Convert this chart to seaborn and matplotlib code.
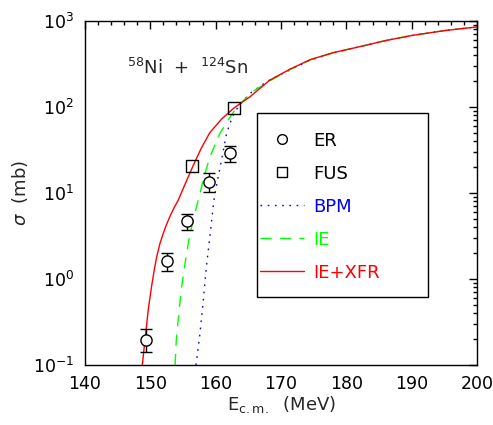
import numpy as np
import pandas as pd
import matplotlib
matplotlib.use("Agg")
import matplotlib.pyplot as plt
import seaborn as sns
from matplotlib.patches import Rectangle
from matplotlib.lines import Line2D
from matplotlib.ticker import MultipleLocator, LogLocator, NullFormatter

# ER data (circles) with error bars
er_e = [149.3, 152.6, 155.6, 159.0, 162.2]
er_sig = [0.195, 1.62, 4.7, 13.4, 29.0]
er_lo = [0.14, 1.23, 3.7, 10.2, 23.0]
er_hi = [0.26, 2.0, 5.7, 17.0, 35.0]

# FUS data (squares)
fus_e = [156.4, 162.8]
fus_sig = [20.6, 97.0]

# IE+XFR (red solid)
xfr_e = [148.8, 149.0, 149.2, 149.45, 149.7, 150.2, 150.6, 151.0, 151.5, 152.0,
         152.5, 153.0, 153.6, 154.3, 155.4, 156.6, 157.8, 159.1, 160.9, 162.8,
         165.3, 168.3, 171.4, 174.5, 178.0, 182.0, 186.0, 190.0, 195.0, 200.0]
xfr_sig = [0.1, 0.14, 0.195, 0.29, 0.44, 0.81, 1.25, 1.82, 2.6, 3.4,
           4.3, 5.3, 6.6, 8.3, 13.0, 21.0, 33.0, 50.0, 72.0, 97.0,
           132.0, 205.0, 275.0, 355.0, 427.0, 500.0, 590.0, 675.0, 770.0, 850.0]

# IE (green dashed)
ie_e = [153.8, 154.0, 154.4, 154.8, 155.4, 156.0, 156.7, 157.35, 158.2, 159.1,
        160.7, 162.2, 163.3, 165.5, 168.3, 171.4, 174.5, 178.0, 182.0, 186.0,
        190.0, 195.0, 200.0]
ie_sig = [0.1, 0.2, 0.42, 0.8, 1.65, 3.1, 5.3, 8.3, 15.0, 26.0,
          50.0, 76.0, 100.0, 148.0, 200.0, 272.0, 352.0, 425.0, 500.0, 590.0,
          675.0, 770.0, 850.0]

# BPM (blue dotted)
bpm_e = [157.0, 157.6, 158.1, 158.6, 159.2, 159.75, 160.2, 160.7, 161.2, 161.7,
         162.6, 163.7, 165.5, 167.3, 168.3, 170.5, 174.5, 178.0, 182.0, 186.0,
         190.0, 195.0, 200.0]
bpm_sig = [0.1, 0.23, 0.55, 1.4, 3.5, 8.3, 13.0, 20.0, 32.0, 50.0,
           78.0, 108.0, 148.0, 185.0, 205.0, 250.0, 350.0, 425.0, 500.0, 590.0,
           675.0, 770.0, 850.0]

sns.set_style("white")
plt.rcParams['font.family'] = ['DejaVu Sans']

green = '#00ff00'

fig = plt.figure(figsize=(4.93, 4.25), dpi=100)
ax = fig.add_axes([0.172, 0.141, 0.796, 0.810])

sns.lineplot(x=bpm_e, y=bpm_sig, ax=ax, color='blue', lw=1.0, sort=False,
             estimator=None, linestyle=(0, (1.2, 4.0)))
sns.lineplot(x=ie_e, y=ie_sig, ax=ax, color=green, lw=1.0, sort=False,
             estimator=None, linestyle=(0, (8, 6)))
sns.lineplot(x=xfr_e, y=xfr_sig, ax=ax, color='red', lw=1.0, sort=False,
             estimator=None)

yerr = [np.array(er_sig) - np.array(er_lo), np.array(er_hi) - np.array(er_sig)]
ax.errorbar(er_e, er_sig, yerr=yerr, fmt='none', ecolor='black', elinewidth=1.0,
            capsize=4.5, capthick=1.0, zorder=4)
sns.scatterplot(x=er_e, y=er_sig, ax=ax, marker='o', s=65, facecolor='white',
                edgecolor='black', linewidth=1.0, zorder=5)
sns.scatterplot(x=fus_e, y=fus_sig, ax=ax, marker='s', s=80, facecolor='none',
                edgecolor='black', linewidth=1.0, zorder=5)

ax.set_yscale('log')
ax.set_xlim(140, 200)
ax.set_ylim(0.1, 1000)
ax.xaxis.set_major_locator(MultipleLocator(10))
ax.xaxis.set_minor_locator(MultipleLocator(2))
ax.yaxis.set_major_locator(LogLocator(base=10, numticks=10))
ax.yaxis.set_minor_locator(LogLocator(base=10, subs=np.arange(2, 10), numticks=20))
ax.yaxis.set_minor_formatter(NullFormatter())
ax.tick_params(which='both', direction='in', top=True, right=True, width=1.0,
               labelsize=12.5, colors='black')
ax.tick_params(which='major', length=6)
ax.tick_params(which='minor', length=3)
ax.tick_params(axis='x', pad=7)
ax.tick_params(axis='y', pad=8)
for s in ax.spines.values():
    s.set_color('black')
    s.set_linewidth(1.0)

ax.set_xlabel(r'E$_{\rm c.m.}$  (MeV)', fontsize=13, labelpad=1)
ax.set_ylabel(r'$\sigma$  (mb)', fontsize=13, labelpad=2)

ax.text(146.5, 280, r'$^{58}$Ni  +  $^{124}$Sn', fontsize=13, va='center', ha='left')

# legend box
ax.add_patch(Rectangle((0.439, 0.198), 0.436, 0.535, transform=ax.transAxes,
                       facecolor='white', edgecolor='black', lw=1.0, zorder=6))
handles = [
    Line2D([], [], ls='none', marker='o', ms=7, mfc='white', mec='black', mew=1.0),
    Line2D([], [], ls='none', marker='s', ms=7, mfc='white', mec='black', mew=1.0),
    Line2D([], [], color='blue', lw=1.0, linestyle=(0, (1.2, 4.0))),
    Line2D([], [], color=green, lw=1.0, linestyle=(0, (8, 6))),
    Line2D([], [], color='red', lw=1.0),
]
labels = ['ER', 'FUS', 'BPM', 'IE', 'IE+XFR']
leg = ax.legend(handles, labels, loc='upper left', bbox_to_anchor=(0.415, 0.715),
                frameon=False, fontsize=13, labelspacing=0.83, handlelength=2.4,
                handletextpad=0.55, borderpad=0.2)
leg.set_zorder(7)
for t, c in zip(leg.get_texts(), ['black', 'black', 'blue', green, 'red']):
    t.set_color(c)

fig.savefig('out.png', dpi=100)
